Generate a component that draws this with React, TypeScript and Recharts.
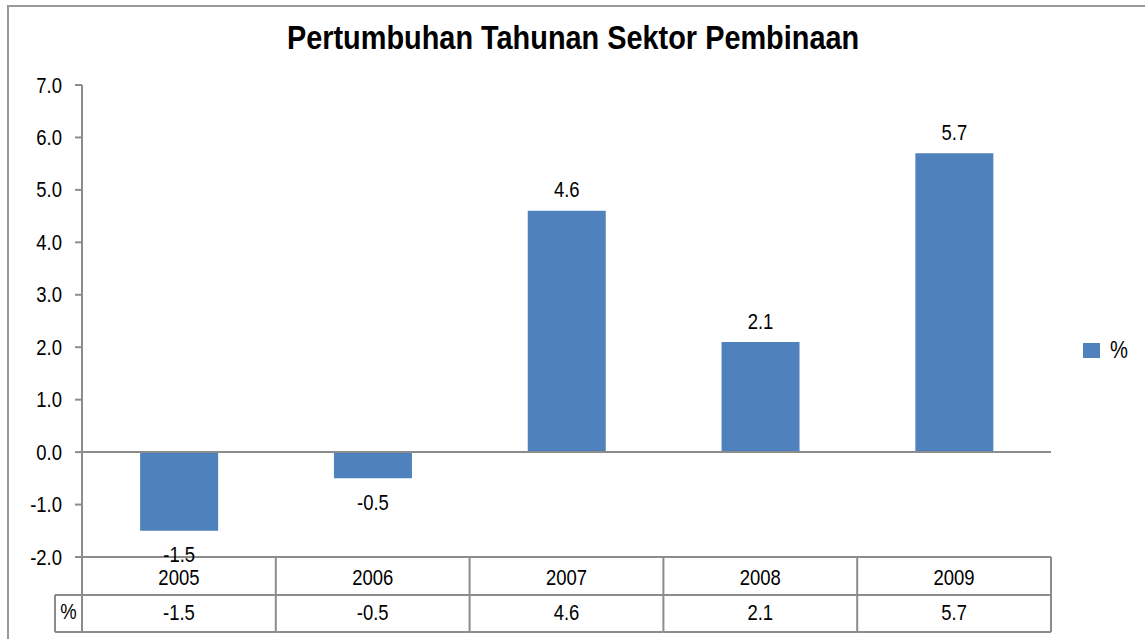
import { BarChart, Bar, XAxis, YAxis, ReferenceLine, Legend, LabelList } from "recharts";

const years = ["2005", "2006", "2007", "2008", "2009"];
const growth = [-1.5, -0.5, 4.6, 2.1, 5.7];
const yTicks = [-2, -1, 0, 1, 2, 3, 4, 5, 6, 7];
const seriesName = "%";
const title = "Pertumbuhan Tahunan Sektor Pembinaan";

const data = years.map((year, i) => ({ year, value: growth[i] }));

const W = 1145;
const H = 639;
const PLOT_LEFT = 82;
const PLOT_RIGHT = 1051;
const PLOT_TOP = 85;
const PLOT_BOTTOM = 557;
const ROW_MID = 595;
const TABLE_BOTTOM = 632;
const HEADER_LEFT = 55;
const BAND = (PLOT_RIGHT - PLOT_LEFT) / years.length;
const FONT = '"Liberation Sans", Arial, sans-serif';
const GRID = "#8c8c8c";
const BLUE = "#4F81BD";
const SQUEEZE = 0.84;

// fake Arial Narrow: squeeze the text around its anchor point
function NarrowText({ x, y, anchor = "middle", size = 22, children }: any) {
  return (
    <text
      transform={`translate(${x},${y}) scale(${SQUEEZE},1)`}
      textAnchor={anchor}
      dominantBaseline="central"
      fontFamily={FONT}
      fontSize={size}
      fill="#000"
    >
      {children}
    </text>
  );
}

function TableTick(props: any) {
  const { x, payload, index } = props;
  const left = x - BAND / 2;
  const right = x + BAND / 2;
  return (
    <g>
      {index === 0 && (
        <g>
          <line x1={left} y1={PLOT_BOTTOM} x2={left} y2={TABLE_BOTTOM} stroke={GRID} strokeWidth={2} />
          <line x1={HEADER_LEFT} y1={ROW_MID} x2={left} y2={ROW_MID} stroke={GRID} strokeWidth={2} />
          <line x1={HEADER_LEFT} y1={TABLE_BOTTOM} x2={left} y2={TABLE_BOTTOM} stroke={GRID} strokeWidth={2} />
          <line x1={HEADER_LEFT} y1={ROW_MID} x2={HEADER_LEFT} y2={TABLE_BOTTOM} stroke={GRID} strokeWidth={2} />
          <NarrowText x={(HEADER_LEFT + left) / 2} y={(ROW_MID + TABLE_BOTTOM) / 2 - 2}>
            {seriesName}
          </NarrowText>
        </g>
      )}
      <line x1={right} y1={PLOT_BOTTOM} x2={right} y2={TABLE_BOTTOM} stroke={GRID} strokeWidth={2} />
      <line x1={left} y1={ROW_MID} x2={right} y2={ROW_MID} stroke={GRID} strokeWidth={2} />
      <line x1={left} y1={TABLE_BOTTOM} x2={right} y2={TABLE_BOTTOM} stroke={GRID} strokeWidth={2} />
      <NarrowText x={x} y={(PLOT_BOTTOM + ROW_MID) / 2 + 1}>
        {payload.value}
      </NarrowText>
      <NarrowText x={x} y={(ROW_MID + TABLE_BOTTOM) / 2 - 1}>
        {growth[index].toFixed(1)}
      </NarrowText>
    </g>
  );
}

function YTick(props: any) {
  const { x, y, payload } = props;
  return (
    <NarrowText x={x} y={y} anchor="end">
      {Number(payload.value).toFixed(1)}
    </NarrowText>
  );
}

function ValueLabel(props: any) {
  const { x, y, width, height, value } = props;
  const top = Math.min(y, y + height);
  const bottom = Math.max(y, y + height);
  const cy = value >= 0 ? top - 21 : bottom + 24;
  return (
    <NarrowText x={x + width / 2} y={cy}>
      {Number(value).toFixed(1)}
    </NarrowText>
  );
}

function LegendBox() {
  return (
    <div style={{ display: "flex", alignItems: "center", fontFamily: FONT, fontSize: 24, color: "#000" }}>
      <span style={{ display: "inline-block", width: 17, height: 15, background: BLUE, marginRight: 10 }} />
      <span style={{ display: "inline-block", transform: `scaleX(${SQUEEZE})`, transformOrigin: "left center" }}>{seriesName}</span>
    </div>
  );
}

export default function App() {
  return (
    <div style={{ position: "absolute", left: 0, top: 0, width: W, height: H, background: "#fff", overflow: "hidden" }}>
      <div style={{ position: "absolute", left: 7, top: 5, width: 1136, height: 700, border: "2px solid #999", borderRight: "1px solid #e4e4e4" }} />
      <div
        style={{
          position: "absolute",
          left: 0,
          width: W,
          top: 19,
          textAlign: "center",
          fontFamily: FONT,
          fontWeight: "bold",
          fontSize: 33,
          color: "#000",
          transform: "scaleX(0.875)",
          transformOrigin: "577px 0",
        }}
      >
        {title}
      </div>
      <div style={{ position: "absolute", left: 0, top: 0 }}>
        <BarChart width={W} height={H} data={data} margin={{ top: PLOT_TOP, right: W - PLOT_RIGHT, bottom: 7, left: 8 }} barCategoryGap="30%">
          <XAxis
            dataKey="year"
            height={H - PLOT_BOTTOM - 7}
            axisLine={{ stroke: GRID, strokeWidth: 2 }}
            tickLine={false}
            tickMargin={0}
            interval={0}
            tick={<TableTick />}
          />
          <YAxis
            width={PLOT_LEFT - 8}
            domain={[-2, 7]}
            ticks={yTicks}
            interval={0}
            axisLine={{ stroke: GRID, strokeWidth: 2 }}
            tickLine={{ stroke: GRID, strokeWidth: 2 }}
            tickSize={7}
            tickMargin={13}
            tick={<YTick />}
          />
          <ReferenceLine y={0} stroke={GRID} strokeWidth={2} />
          <Legend
            layout="vertical"
            align="center"
            verticalAlign="middle"
            wrapperStyle={{ left: 1083, top: 336, width: 60 }}
            content={() => <LegendBox />}
          />
          <Bar dataKey="value" name={seriesName} fill={BLUE} isAnimationActive={false}>
            <LabelList dataKey="value" content={<ValueLabel />} />
          </Bar>
        </BarChart>
      </div>
    </div>
  );
}
